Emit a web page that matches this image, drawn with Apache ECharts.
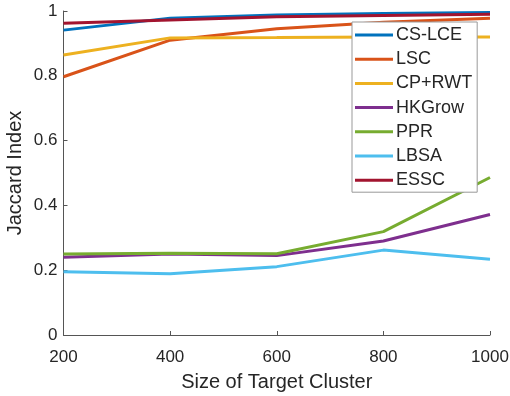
<!DOCTYPE html>
<html>
<head>
<meta charset="utf-8">
<script src="https://cdn.jsdelivr.net/npm/echarts@6/dist/echarts.min.js"></script>
<style>
  html, body { margin: 0; padding: 0; background: #fff; }
  #chart { width: 510px; height: 396px; }
</style>
</head>
<body>
<div id="chart"></div>
<script>
// cluster sizes on x
const sizes = [200, 400, 600, 800, 1000];

// Jaccard index per method
const csLce  = [0.941, 0.978, 0.988, 0.992, 0.995];
const lsc    = [0.797, 0.910, 0.945, 0.965, 0.978];
const cpRwt  = [0.864, 0.917, 0.918, 0.920, 0.920];
const hkGrow = [0.240, 0.250, 0.245, 0.290, 0.372];
const ppr    = [0.250, 0.252, 0.251, 0.319, 0.486];
const lbsa   = [0.195, 0.189, 0.211, 0.262, 0.234];
const essc   = [0.962, 0.972, 0.982, 0.986, 0.990];

const names  = ['CS-LCE', 'LSC', 'CP+RWT', 'HKGrow', 'PPR', 'LBSA', 'ESSC'];
const values = [csLce, lsc, cpRwt, hkGrow, ppr, lbsa, essc];
const colors = ['#0072BD', '#D95319', '#EDB120', '#7E2F8E', '#77AC30', '#4DBEEE', '#A2142F'];

const font = 'Liberation Sans, Arial, Helvetica, sans-serif';
const textColor = '#262626';
const axisColor = '#555';

const chart = echarts.init(document.getElementById('chart'));

chart.setOption({
    animation: false,
    color: colors,
    grid: { left: 63.5, right: 20, top: 11, bottom: 61, containLabel: false, outerBoundsMode: 'none' },
    legend: {
        orient: 'vertical',
        left: 352,
        top: 22,
        icon: 'rect',
        itemWidth: 38,
        itemHeight: 3,
        itemGap: 4.2,
        padding: [3, 5, 2, 3],
        backgroundColor: '#fff',
        borderColor: '#999',
        borderWidth: 1,
        borderRadius: 0,
        textStyle: { color: textColor, fontSize: 18, fontFamily: font, lineHeight: 20, padding: [0, 0, 0, -2] },
        data: names
    },
    xAxis: {
        type: 'value',
        min: 200,
        max: 1000,
        interval: 200,
        name: 'Size of Target Cluster',
        nameLocation: 'middle',
        nameGap: 37,
        nameMoveOverlap: false,
        nameTextStyle: { color: textColor, fontSize: 20, fontFamily: font },
        axisLine: { show: true, lineStyle: { color: axisColor, width: 1 } },
        axisTick: { show: true, inside: true, length: 4, lineStyle: { color: axisColor } },
        axisLabel: { color: textColor, fontSize: 17, fontFamily: font, margin: 14,
            formatter: function (v) { return String(v); } },
        splitLine: { show: false }
    },
    yAxis: {
        type: 'value',
        min: 0,
        max: 1,
        interval: 0.2,
        name: 'Jaccard Index',
        nameLocation: 'middle',
        nameGap: 38,
        nameMoveOverlap: false,
        nameTextStyle: { color: textColor, fontSize: 20, fontFamily: font },
        axisLine: { show: true, lineStyle: { color: axisColor, width: 1 } },
        axisTick: { show: true, inside: true, length: 4, lineStyle: { color: axisColor } },
        axisLabel: { color: textColor, fontSize: 17, fontFamily: font, margin: 6 },
        splitLine: { show: false }
    },
    series: names.map(function (n, i) {
        return {
            name: n,
            type: 'line',
            symbol: 'none',
            showSymbol: false,
            lineStyle: { width: 3, color: colors[i] },
            itemStyle: { color: colors[i] },
            data: sizes.map(function (s, j) { return [s, values[i][j]]; })
        };
    })
});
</script>
</body>
</html>
